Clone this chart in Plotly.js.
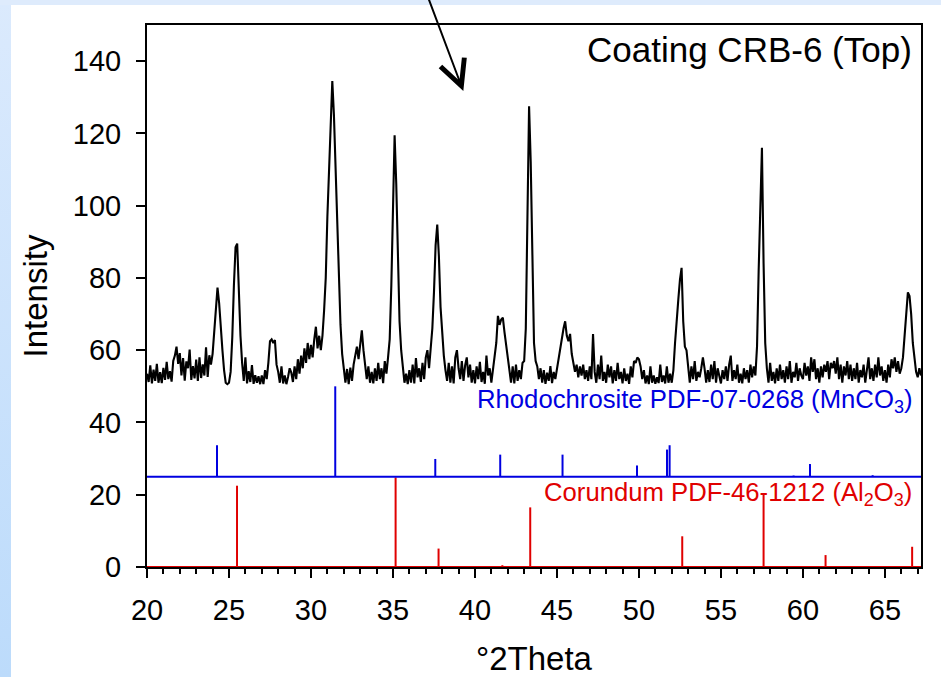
<!DOCTYPE html>
<html>
<head>
<meta charset="utf-8">
<script src="https://cdn.plot.ly/plotly-3.0.1.min.js"></script>
<style>
html, body { margin:0; padding:0; width:941px; height:677px; overflow:hidden; }
body {
  background:
    linear-gradient(to bottom, #deebfc 0px, #deebfc 5px, rgba(255,255,255,0) 5px),
    linear-gradient(to bottom, #dbeafd, #bcdbfb) 0 0 / 11px 100% no-repeat,
    #ffffff;
}
#chart { width:941px; height:677px; }
</style>
</head>
<body>
<div id="chart"></div>
<script>
// ---- Measured XRD scan (Coating CRB-6, Top) ----
const scanStart = 20.0;   // °2Theta of first point
const scanStep = 0.1;     // °2Theta step of the scan
const intensity = [
  53.5, 51.2, 55.8, 50.8, 54.6, 51.5, 56.2, 51.0, 53.9, 50.9,
  55.1, 51.8, 56.8, 52.0, 54.2, 51.3, 57.0, 58.5, 61.0, 56.2,
  59.2, 53.0, 57.8, 51.6, 56.9, 55.0, 60.2, 51.8, 55.6, 52.2,
  57.4, 51.5, 58.0, 52.3, 56.1, 53.0, 60.8, 52.6, 58.6, 56.0,
  59.0, 65.0, 72.5, 77.3, 73.0, 65.5, 60.0, 54.5, 51.0, 50.6,
  51.0, 54.0, 63.5, 78.0, 88.5, 89.5, 76.0, 64.0, 56.5, 51.5,
  58.0, 50.8, 54.2, 51.2, 55.9, 50.7, 53.1, 51.0, 52.8, 50.6,
  53.0, 50.6, 54.5, 52.0, 56.5, 62.5, 63.0, 62.0, 62.8, 56.0,
  54.0, 51.0, 55.5, 50.8, 53.0, 50.6, 52.6, 55.0, 53.8, 51.2,
  55.5, 52.0, 57.5, 53.5, 58.5, 55.0, 60.5, 56.5, 62.0, 57.5,
  61.5, 58.0, 63.0, 66.5, 60.5, 64.0, 60.0, 64.0, 71.0, 80.0,
  97.0, 111.0, 123.0, 134.5, 125.0, 110.0, 95.0, 81.0, 67.0, 59.0,
  55.5, 51.0, 54.8, 50.6, 55.2, 51.5, 56.0, 58.5, 61.0, 57.5,
  62.0, 65.5, 60.0, 56.0, 52.0, 55.5, 51.0, 54.0, 50.8, 55.0,
  51.5, 56.5, 52.0, 55.0, 50.9, 57.0, 53.5, 58.0, 63.0, 78.0,
  100.0, 119.5, 106.0, 86.0, 68.0, 60.0, 55.0, 51.0, 53.5, 50.6,
  54.5, 51.0, 56.0, 50.8, 57.8, 52.5, 55.0, 51.2, 56.5, 52.0,
  58.0, 60.0, 55.0, 59.5, 66.0, 76.0, 89.0, 94.8, 86.0, 72.0,
  65.0, 58.5, 54.5, 51.5, 56.5, 51.0, 55.5, 50.8, 58.0, 60.0,
  55.0, 52.0, 57.0, 51.5, 55.8, 58.0, 52.5, 56.0, 51.0, 54.5,
  50.8, 55.5, 52.0, 56.8, 51.2, 54.0, 50.7, 58.5, 53.0, 55.0,
  51.0, 54.5, 58.0, 62.0, 69.5, 67.0, 68.5, 69.0, 65.0, 61.5,
  58.5, 55.0, 51.0, 55.5, 50.8, 56.0, 51.5, 54.5, 52.0, 56.5,
  57.0, 66.0, 98.0, 127.5, 112.0, 88.0, 62.0, 57.0, 55.5, 52.0,
  55.0, 51.0, 54.5, 50.7, 53.8, 51.5, 55.6, 50.9, 54.0, 52.0,
  55.0, 57.0, 60.5, 63.0, 66.0, 68.0, 64.0, 62.5, 64.5, 59.0,
  56.5, 54.0, 56.0, 52.5, 55.5, 53.0, 56.0, 52.0, 54.5, 51.5,
  55.5, 52.0, 64.5, 54.0, 51.0, 56.0, 52.0, 58.5, 51.5, 54.0,
  51.0, 56.0, 52.5, 55.5, 50.8, 54.5, 51.5, 56.5, 52.0, 54.0,
  50.8, 55.0, 51.5, 53.5, 50.7, 55.5, 52.5, 57.0, 56.5, 58.0,
  57.5, 55.5, 52.0, 54.5, 50.8, 53.0, 50.6, 55.5, 51.0, 53.0,
  50.7, 52.5, 50.9, 56.0, 51.2, 53.0, 50.8, 55.5, 51.0, 53.5,
  51.0, 54.5, 62.0, 67.0, 74.0, 79.5, 82.8, 68.0, 61.0, 60.0,
  54.5, 51.0, 55.5, 52.0, 57.0, 51.5, 54.0, 52.5, 55.0, 58.0,
  55.0, 51.0, 54.5, 51.2, 56.0, 52.0, 57.0, 51.0, 55.0, 52.5,
  50.8, 54.5, 52.0, 55.5, 51.5, 56.0, 58.5, 51.5, 54.5, 52.0,
  56.0, 51.0, 53.5, 50.8, 55.0, 52.0, 54.5, 51.0, 56.0, 52.5,
  55.5, 53.0, 61.0, 82.0, 104.0, 116.0, 84.0, 62.0, 55.0, 51.0,
  56.5, 51.5, 54.0, 50.8, 55.0, 51.5, 56.0, 52.0, 54.5, 51.0,
  55.5, 52.0, 57.0, 51.0, 54.0, 52.5, 56.5, 51.5, 55.0, 53.0,
  52.0, 56.5, 53.0, 55.5, 51.5, 58.0, 54.0, 57.5, 52.0, 55.0,
  51.0, 55.5, 52.5, 56.0, 54.0, 57.0, 52.0, 56.5, 55.0, 57.0,
  53.5, 58.0, 52.0, 56.0, 51.0, 55.5, 53.0, 57.0, 52.0, 56.0,
  51.5, 55.0, 52.0, 56.5, 51.0, 54.5, 52.5, 56.0, 51.0, 55.5,
  58.0, 52.0, 55.0, 51.5, 56.0, 52.5, 58.0, 53.0, 55.5, 51.5,
  54.5, 51.0, 56.0, 52.5, 57.5, 55.0, 58.0, 54.0, 57.0, 53.5,
  55.0, 58.0, 64.0, 71.0, 76.0, 75.0, 70.0, 62.0, 57.0, 54.0,
  52.5, 55.0, 53.0
];

// ---- Reference stick patterns (position °2Theta, plotted stick height) ----
const rhodoLabel = 'Rhodochrosite PDF-07-0268 (MnCO<sub>3</sub>)';
const rhodoOffset = 25;
const rhodoPos = [24.27, 31.48, 37.58, 41.54, 45.34, 49.88, 51.71, 51.87, 59.43, 60.43, 64.25];
const rhodoInt = [8.7, 25.0, 4.9, 6.1, 6.1, 3.1, 7.5, 8.7, 0.3, 3.5, 0.4];

const corLabel = 'Corundum PDF-46-1212 (Al<sub>2</sub>O<sub>3</sub>)';
const corOffset = 0;
const corPos = [25.49, 35.16, 37.78, 41.67, 43.37, 52.64, 57.60, 61.38, 66.66];
const corInt = [22.5, 24.8, 5.1, 0.5, 16.5, 8.5, 20.0, 3.3, 5.6];

const sampleLabel = 'Coating CRB-6 (Top)';
const xRange = [20, 67.2];
const yRange = [0, 150];

// ---- build traces ----
const twoTheta = intensity.map((_, i) => +(scanStart + i * scanStep).toFixed(2));

function sticks(pos, h, off) {
  const x = [xRange[0], xRange[1], null], y = [off, off, null];
  pos.forEach((p, i) => { x.push(p, p, null); y.push(off, off + h[i], null); });
  return { x, y };
}
const rs = sticks(rhodoPos, rhodoInt, rhodoOffset);
const cs = sticks(corPos, corInt, corOffset);

const traces = [
  { x: cs.x, y: cs.y, type: 'scatter', mode: 'lines', name: 'Corundum',
    line: { color: '#e00000', width: 2 }, cliponaxis: false, connectgaps: false, hoverinfo: 'skip' },
  { x: rs.x, y: rs.y, type: 'scatter', mode: 'lines', name: 'Rhodochrosite',
    line: { color: '#0000e0', width: 2 }, cliponaxis: false, connectgaps: false, hoverinfo: 'skip' },
  { x: twoTheta, y: intensity, type: 'scatter', mode: 'lines', name: sampleLabel,
    line: { color: '#000000', width: 2.1 } }
];

const FONT = 'Liberation Sans, Arial, Helvetica, sans-serif';

const layout = {
  width: 941, height: 677,
  margin: { l: 147, r: 20, t: 25, b: 110, pad: 0 },
  paper_bgcolor: 'rgba(0,0,0,0)',
  plot_bgcolor: '#ffffff',
  font: { family: FONT, color: '#000000', size: 26 },
  showlegend: false,
  xaxis: {
    range: xRange, tick0: 20, dtick: 5,
    ticks: 'outside', ticklen: 9, tickwidth: 2, tickcolor: '#000',
    showline: true, linewidth: 2, linecolor: '#000', mirror: true,
    showgrid: false, zeroline: false, layer: 'below traces',
    tickfont: { size: 29, family: FONT },
    ticklabelstandoff: 7,
    minor: { tick0: 20, dtick: 1, ticks: 'outside', ticklen: 5, tickwidth: 2, tickcolor: '#000', showgrid: false },
    title: { text: '°2Theta', font: { size: 33, family: FONT }, standoff: 27 },
    automargin: false
  },
  yaxis: {
    range: yRange, tick0: 0, dtick: 20,
    ticks: 'outside', ticklen: 9, tickwidth: 2, tickcolor: '#000',
    showline: true, linewidth: 2, linecolor: '#000', mirror: true,
    showgrid: false, zeroline: false, layer: 'below traces',
    tickfont: { size: 29, family: FONT },
    ticklabelstandoff: 9,
    title: { text: 'Intensity', font: { size: 33, family: FONT }, standoff: 15 },
    automargin: false
  },
  annotations: [
    { text: sampleLabel, xref: 'paper', yref: 'paper', x: 1, y: 0.954,
      xanchor: 'right', yanchor: 'middle', xshift: -7, showarrow: false,
      font: { size: 35, family: FONT, color: '#000' } },
    { text: rhodoLabel, xref: 'paper', yref: 'y', x: 1, y: 45.9,
      xanchor: 'right', yanchor: 'middle', xshift: -7, showarrow: false,
      font: { size: 25.7, family: FONT, color: '#0000e0' } },
    { text: corLabel, xref: 'paper', yref: 'y', x: 1, y: 20.1,
      xanchor: 'right', yanchor: 'middle', xshift: -7, showarrow: false,
      font: { size: 25.7, family: FONT, color: '#e00000' } },
    { text: ' ', xref: 'x', yref: 'y', x: 39.29, y: 131.7,
      axref: 'x', ayref: 'y', ax: 37.07, ay: 158.5,
      showarrow: true, arrowhead: 5, arrowsize: 2.5, arrowwidth: 2, arrowcolor: '#000',
      standoff: 0, startstandoff: 0, font: { size: 1 } }
  ]
};

Plotly.newPlot('chart', traces, layout, { staticPlot: true, displayModeBar: false });
</script>
</body>
</html>
